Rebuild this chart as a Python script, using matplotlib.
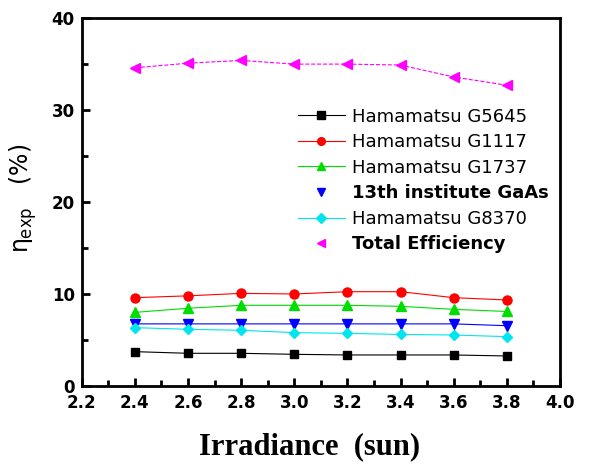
import matplotlib
matplotlib.use("Agg")
import matplotlib.pyplot as plt
from matplotlib.lines import Line2D
from matplotlib.ticker import MultipleLocator, FormatStrFormatter
from matplotlib.transforms import ScaledTranslation

irradiance = [2.4, 2.6, 2.8, 3.0, 3.2, 3.4, 3.6, 3.8]
g5645 = [3.73, 3.55, 3.55, 3.44, 3.37, 3.37, 3.37, 3.26]
g1117 = [9.6, 9.8, 10.07, 10.0, 10.25, 10.25, 9.6, 9.35]
g1737 = [8.0, 8.45, 8.77, 8.77, 8.77, 8.66, 8.33, 8.1]
gaas13 = [6.75, 6.75, 6.75, 6.75, 6.75, 6.75, 6.75, 6.55]
g8370 = [6.34, 6.16, 6.05, 5.8, 5.72, 5.6, 5.54, 5.36]
total = [34.6, 35.1, 35.4, 35.0, 35.0, 34.9, 33.6, 32.7]

labels = ["Hamamatsu G5645", "Hamamatsu G1117", "Hamamatsu G1737",
          "13th institute GaAs", "Hamamatsu G8370", "Total Efficiency"]

plt.rcParams['font.family'] = ['DejaVu Sans']
plt.rcParams['mathtext.fontset'] = 'custom'
plt.rcParams['mathtext.rm'] = 'DejaVu Sans'
plt.rcParams['mathtext.it'] = 'DejaVu Sans'

fig = plt.figure(figsize=(5.97, 4.65), dpi=100)
ax = fig.add_axes([0.137, 0.170, 0.801, 0.791])

series = [g5645, g1117, g1737, gaas13, g8370, total]
colors = ['black', '#ff0000', '#00dd00', '#0000ff', '#00e5ee', '#ff00ff']
markers = ['s', 'o', '^', 'v', 'D', '<']
msizes = [6, 6.5, 7, 7, 5.5, 7]
show_line = [True, True, True, False, True, False]
handles = []
for s, c, m, ms, lab, sl in zip(series, colors, markers, msizes, labels, show_line):
    ls = '--' if c == '#ff00ff' else '-'
    ax.plot(irradiance, s, color=c, lw=0.8, ls=ls, marker=m, ms=ms, mec=c, mfc=c)
    handles.append(Line2D([], [], color=c, lw=0.8 if sl else 0,
                          ls='-' if sl else 'none', marker=m, ms=ms * 0.85, mec=c, mfc=c))

ax.set_xlim(2.2, 4.0)
ax.set_ylim(0, 40)
ax.xaxis.set_major_locator(MultipleLocator(0.2))
ax.xaxis.set_minor_locator(MultipleLocator(0.1))
ax.yaxis.set_major_locator(MultipleLocator(10))
ax.yaxis.set_minor_locator(MultipleLocator(5))
ax.tick_params(which='both', direction='in', width=2, top=False, right=False)
ax.tick_params(which='major', length=6, labelsize=12)
ax.tick_params(axis='x', which='major', pad=6)
ax.tick_params(axis='y', which='major', pad=5)
ax.tick_params(which='minor', length=4)
ax.xaxis.set_major_formatter(FormatStrFormatter('%.1f'))
for lab in ax.get_xticklabels() + ax.get_yticklabels():
    lab.set_fontweight('bold')
for sp in ax.spines.values():
    sp.set_linewidth(2)

fig.canvas.draw()
ylabs = ax.get_yticklabels()
ylabs[0].set_transform(ylabs[0].get_transform() + ScaledTranslation(0, 3 / 100, fig.dpi_scale_trans))

ax.set_xlabel("Irradiance  (sun)", family='Liberation Serif', fontweight='bold',
              fontsize=22)
ax.xaxis.set_label_coords(0.477, -0.125)
ax.set_ylabel(r"$\eta_{\mathrm{exp}}$   (%)", fontsize=17)
ax.yaxis.set_label_coords(-0.09, 0.51)

leg = ax.legend(handles, labels, loc='upper left', bbox_to_anchor=(0.452, 0.757),
                frameon=False, fontsize=13, handlelength=2.6, handletextpad=0.4,
                labelspacing=0.42, borderaxespad=0, borderpad=0)
for i, t in enumerate(leg.get_texts()):
    if i in (3, 5):
        t.set_fontweight('bold')

fig.savefig("out.png", dpi=100)
